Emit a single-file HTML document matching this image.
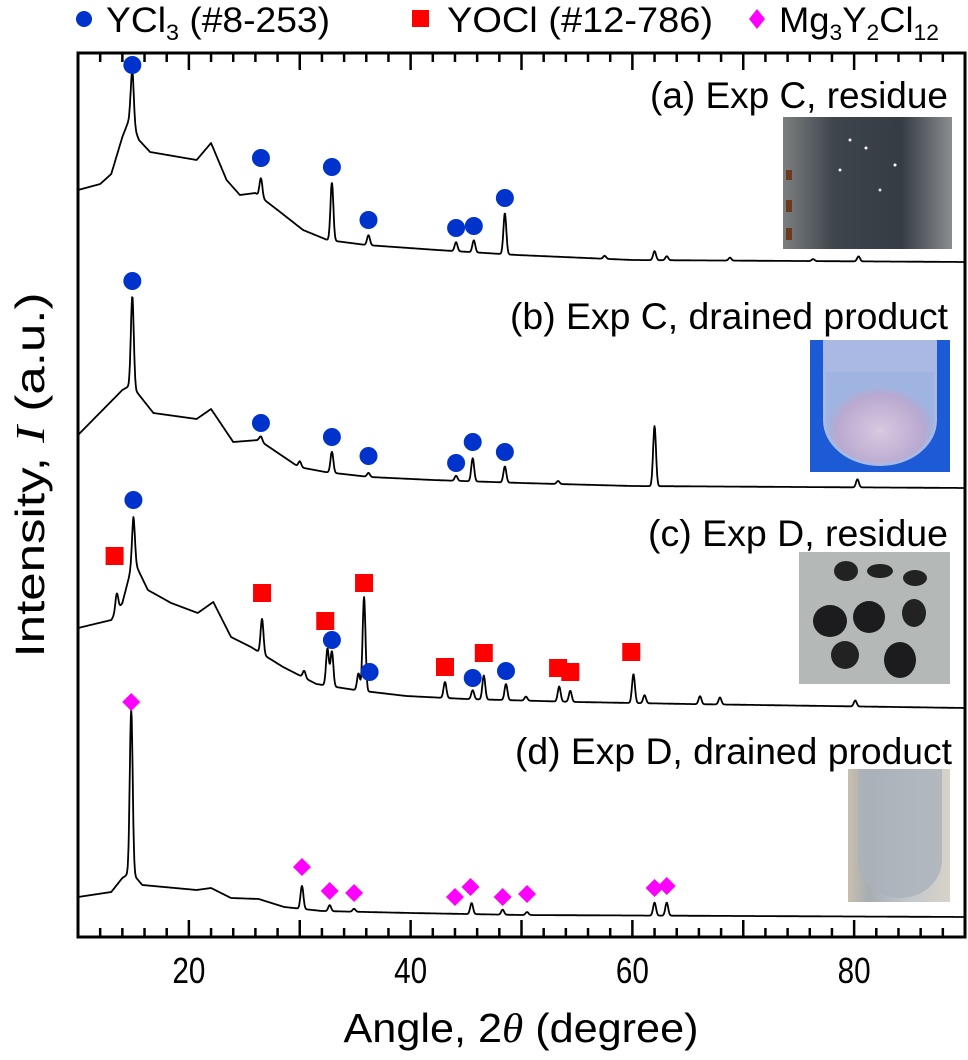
<!DOCTYPE html>
<html><head><meta charset="utf-8">
<style>
html,body{margin:0;padding:0;background:#fff;}
svg{display:block;font-family:"Liberation Sans",Arial,sans-serif;}
</style></head>
<body>
<svg id="chart" width="968" height="1060" viewBox="0 0 968 1060" xmlns="http://www.w3.org/2000/svg">
<defs>
<linearGradient id="gA" x1="0" x2="1"><stop offset="0" stop-color="#7c7f80"/><stop offset="0.3" stop-color="#3e454c"/><stop offset="0.7" stop-color="#353c44"/><stop offset="1" stop-color="#8a8d90"/></linearGradient>
<radialGradient id="gB" cx="0.5" cy="0.65" r="0.5"><stop offset="0" stop-color="#d9c8e0"/><stop offset="0.8" stop-color="#b9a9d0"/><stop offset="1" stop-color="#9fb4e0"/></radialGradient>
<linearGradient id="gD" x1="0" x2="1"><stop offset="0" stop-color="#c9bfae"/><stop offset="0.2" stop-color="#a7adb3"/><stop offset="0.6" stop-color="#c3c8cd"/><stop offset="1" stop-color="#d8d2c8"/></linearGradient>
</defs>
<g id="legend">
 <g>
  <circle cx="84" cy="19" r="8" fill="#0033cc"/>
  <text x="106" y="32" font-size="35" textLength="224" lengthAdjust="spacingAndGlyphs">YCl<tspan font-size="22" dy="8">3</tspan><tspan dy="-8"> (#8-253)</tspan></text>
 </g>
 <g>
  <rect x="412" y="10" width="17" height="17" fill="#ff0000"/>
  <text x="447" y="32" font-size="35" textLength="266" lengthAdjust="spacingAndGlyphs">YOCl (#12-786)</text>
 </g>
 <g>
  <polygon points="757,9 765,19 757,29 749,19" fill="#ff00ff"/>
  <text x="779" y="32" font-size="35" textLength="160" lengthAdjust="spacingAndGlyphs">Mg<tspan font-size="22" dy="8">3</tspan><tspan dy="-8">Y</tspan><tspan font-size="22" dy="8">2</tspan><tspan dy="-8">Cl</tspan><tspan font-size="22" dy="8">12</tspan></text>
 </g>
</g>
<g id="photos">
 <g>
  <rect x="783" y="117" width="169" height="132" fill="url(#gA)"/>
  <rect x="786" y="170" width="6" height="10" fill="#6b3a20"/><rect x="786" y="200" width="6" height="12" fill="#6b3a20"/><rect x="786" y="228" width="6" height="12" fill="#6b3a20"/>
  <circle cx="850" cy="140" r="1.5" fill="#eee"/><circle cx="866" cy="148" r="1.5" fill="#fff"/><circle cx="880" cy="190" r="1.5" fill="#ddd"/><circle cx="840" cy="170" r="1.5" fill="#eee"/><circle cx="895" cy="165" r="1.5" fill="#fff"/>
 </g>
 <g>
  <rect x="810" y="340" width="140" height="132" fill="#1d5ad6"/>
  <path d="M823,340 V420 A57,46 0 0 0 937,420 V340 Z" fill="#a9b9e4"/>
  <path d="M826,372 V420 A54,43 0 0 0 934,420 V372 Z" fill="url(#gB)"/>
 </g>
 <g>
  <rect x="799" y="552" width="151" height="132" fill="#b4b9b8"/>
  <ellipse cx="846" cy="571" rx="12" ry="10" fill="#222"/><ellipse cx="880" cy="571" rx="13" ry="7" fill="#222"/><ellipse cx="915" cy="578" rx="12" ry="8" fill="#222"/>
  <ellipse cx="830" cy="621" rx="17" ry="16" fill="#1c1c1e"/><ellipse cx="869" cy="617" rx="16" ry="16" fill="#1c1c1e"/><ellipse cx="914" cy="613" rx="12" ry="14" fill="#222"/>
  <ellipse cx="845" cy="655" rx="14" ry="14" fill="#222"/><ellipse cx="900" cy="660" rx="16" ry="18" fill="#1c1c1e"/>
 </g>
 <g>
  <rect x="848" y="769" width="102" height="133" fill="url(#gD)"/>
  <path d="M858,769 V860 A42,38 0 0 0 942,860 V769 Z" fill="#aab2ba" opacity="0.8"/>
 </g>
</g>
<g id="axes"></g>
<g id="series"></g>
<g id="markers"></g>
<g id="labels" font-size="37" text-anchor="end">
 <text x="948" y="108" textLength="298" lengthAdjust="spacingAndGlyphs">(a) Exp C, residue</text>
 <text x="948" y="329" textLength="438" lengthAdjust="spacingAndGlyphs">(b) Exp C, drained product</text>
 <text x="948" y="546" textLength="300" lengthAdjust="spacingAndGlyphs">(c) Exp D, residue</text>
 <text x="952" y="764" textLength="437" lengthAdjust="spacingAndGlyphs">(d) Exp D, drained product</text>
</g>
<text x="521" y="1042" font-size="41" text-anchor="middle" textLength="355" lengthAdjust="spacingAndGlyphs">Angle, 2<tspan font-family="Liberation Serif" font-style="italic">θ</tspan> (degree)</text>
<text transform="translate(44,475) rotate(-90)" font-size="41" text-anchor="middle" textLength="365" lengthAdjust="spacingAndGlyphs">Intensity, <tspan font-family="Liberation Serif" font-style="italic">I</tspan> (a.u.)</text>
</svg>
<script>
// ---- data ----
const xTicksMajor = [10,20,30,40,50,60,70,80,90];
const xTickLabels = [20,40,60,80];
const baseA = 262, baseB = 488, baseC = 708, baseD = 917;
const bgAngA = [10,12,13,14,14.7,15.5,16.5,20.7,22,23.4,24.6,26,28,30.3,32.5,36,42.4,49.6,60,90];
const bgIntA = [72,78,88,125,145,122,110,102,119,82,67,69,52,32,22,17,12,7,2,0];
const pkAngA = [14.9,26.5,32.9,36.2,44.1,45.7,48.5,57.5,62.0,63.1,68.8,76.3,80.4];
const pkIntA = [52,19,58,10,9,12,41,3,9,4,3,2,5];
const bgAngB = [10,14,14.8,16.8,20.7,22,24,26.3,29.9,32.3,36.3,42,50,60,90];
const bgIntB = [53,98,103,75,69,79,46,48,21,16,11,8,5,2,0];
const pkAngB = [14.9,26.5,30.0,32.9,36.2,44.1,45.6,48.5,53.3,62.0,80.3];
const pkIntB = [90,5,6,21,4,5,23,16,3,60,8];
const bgAngC = [10,13,14,15,16.3,18.4,20.8,22.2,23.8,25.6,28.5,31.5,35,39.6,45,55,65,90];
const bgIntC = [80,88,105,148,118,105,95,106,71,61,41,24,18,12,9,6,4,0];
const pkAngC = [13.5,15.0,26.6,30.4,32.5,32.9,35.3,35.8,43.1,45.6,46.6,48.6,50.4,53.4,54.4,60.1,61.1,66.1,67.9,80.1];
const pkIntC = [18,43,35,7,37,35,17,94,16,9,24,16,4,15,11,29,8,8,7,6];
const bgAngD = [10,13,14,14.8,15.8,20.7,22,23.8,26.3,28.6,32,40,50,90];
const bgIntD = [20,25,39,45,32,27,29,19,18,10,6,4,2,0];
const pkAngD = [14.8,30.2,32.7,34.9,45.5,48.3,50.5,62.0,63.1];
const pkIntD = [162,23,6,3,11,5,3,13,13];
const mkAngA = [14.9,26.5,32.9,36.2,44.1,45.7,48.5];
const mkIntA = [197,104,95,42,34,36,64];
const mkAngB = [14.9,26.5,32.9,36.2,44.1,45.6,48.5];
const mkIntB = [207,65,51,32,25,46,36];
const ycl3AngC = [15.0,32.9,36.3,45.6,48.6];
const ycl3IntC = [208,68,36,30,37];
const yoclAngC = [13.3,26.6,32.3,35.8,43.1,46.6,53.3,54.4,59.9];
const yoclIntC = [152,115,87,125,41,55,40,36,56];
const mgAngD = [14.8,30.2,32.7,34.9,44.0,45.4,48.3,50.5,62.0,63.1];
const mgIntD = [215,50,26,24,20,30,20,23,29,31];

// ---- scales ----
const X0=78, X1=965, D0=10, D1=90;
const xs = v => X0 + (v-D0)*(X1-X0)/(D1-D0);
const ys = (base, i) => base - i;
const NS = "http://www.w3.org/2000/svg";
function mk(tag, attrs, parent){const e=document.createElementNS(NS,tag);for(const k in attrs)e.setAttribute(k,attrs[k]);parent.appendChild(e);return e;}

const axes = document.getElementById('axes');
const frame = mk('rect',{x:X0,y:53,width:X1-X0,height:937-53,fill:'none',stroke:'#000','stroke-width':3},axes);


for(let v=10; v<=90; v+=2){
  if(v===10||v===90) continue;
  const major = xTicksMajor.includes(v);
  const L = major?17:9, x=xs(v);
  const tb = mk('line',{x1:x,x2:x,y1:937,y2:937-L,stroke:'#000','stroke-width':2.5},axes);
  
  
  const tt = mk('line',{x1:x,x2:x,y1:53,y2:53+L,stroke:'#000','stroke-width':2.5},axes);
  
  
}
xTickLabels.forEach(v=>{
  const t = mk('text',{x:xs(v),y:983,'font-size':36,'text-anchor':'middle',textLength:33,lengthAdjust:'spacingAndGlyphs'},axes);
  t.textContent = v;
  
  
});

function interp(a, b, v){
  if(v<=a[0]) return b[0];
  for(let i=1;i<a.length;i++){ if(v<=a[i]){const t=(v-a[i-1])/(a[i]-a[i-1]);return b[i-1]+t*(b[i]-b[i-1]);} }
  return b[b.length-1];
}
const series = document.getElementById('series');
function drawPattern(name, base, bgA, bgI, pA, pI){
  let d='';
  for(let v=D0; v<=D1+1e-9; v+=0.04){
    let I = interp(bgA,bgI,v);
    for(let k=0;k<pA.length;k++){ const dx=(v-pA[k])/0.13; I += pI[k]*Math.exp(-0.5*dx*dx); }
    d += (d?'L':'M')+xs(v).toFixed(1)+','+ys(base,I).toFixed(1);
  }
  const p = mk('path',{d:d,fill:'none',stroke:'#000','stroke-width':1.8,'stroke-linejoin':'round'},series);
  
  
}
drawPattern('pattern-a-line', baseA, bgAngA, bgIntA, pkAngA, pkIntA);
drawPattern('pattern-b-line', baseB, bgAngB, bgIntB, pkAngB, pkIntB);
drawPattern('pattern-c-line', baseC, bgAngC, bgIntC, pkAngC, pkIntC);
drawPattern('pattern-d-line', baseD, bgAngD, bgIntD, pkAngD, pkIntD);

const mg = document.getElementById('markers');
function circles(base, A, I){ A.forEach((a,k)=>{ const c=mk('circle',{cx:xs(a),cy:ys(base,I[k]),r:9,fill:'#0033cc'},mg);
  
   }); }
function squares(base, A, I){ A.forEach((a,k)=>{ const r=mk('rect',{x:xs(a)-9,y:ys(base,I[k])-9,width:18,height:18,fill:'#ff0000'},mg);
  
   }); }
function diamonds(base, A, I){ A.forEach((a,k)=>{ const x=xs(a), y=ys(base,I[k]);
  const p=mk('polygon',{points:`${x},${y-9} ${x+9},${y} ${x},${y+9} ${x-9},${y}`,fill:'#ff00ff'},mg);
  
   }); }
circles(baseA, mkAngA, mkIntA);
circles(baseB, mkAngB, mkIntB);
squares(baseC, yoclAngC, yoclIntC);
circles(baseC, ycl3AngC, ycl3IntC);
diamonds(baseD, mgAngD, mgIntD);
</script>
</body></html>
